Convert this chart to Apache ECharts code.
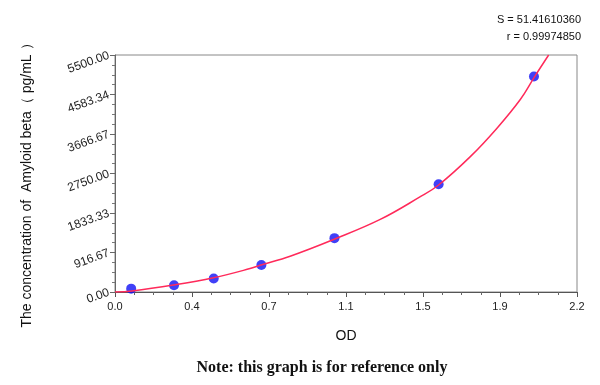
<!DOCTYPE html>
<html>
<head>
<meta charset="utf-8">
<script src="https://cdn.jsdelivr.net/npm/echarts@6/dist/echarts.min.js"></script>
<style>
html,body{margin:0;padding:0;background:#fff;}
#chart{width:600px;height:385px;}
</style>
</head>
<body>
<div id="chart"></div>
<script>
// Standard points (OD, concentration pg/mL)
const pointOD   = [0.077, 0.281, 0.470, 0.697, 1.045, 1.541, 1.995];
const pointConc = [78, 156, 312, 625, 1250, 2500, 5000];
// Fitted curve
const curveOD   = [0, 0.08, 0.278, 0.469, 0.643, 0.691, 0.834, 1.041, 1.263, 1.45, 1.541, 1.692, 1.819, 1.930, 1.994, 2.065];
const curveConc = [0, 23, 160, 330, 544, 621, 831, 1219, 1684, 2200, 2483, 3141, 3802, 4467, 4965, 5500];
// Tick labels
const xTickLabels = ['0.0', '0.4', '0.7', '1.1', '1.5', '1.9', '2.2'];
const yTickLabels = ['0.00', '916.67', '1833.33', '2750.00', '3666.67', '4583.34', '5500.00'];
const xMax = 2.2, yMax = 5500;

const chart = echarts.init(document.getElementById('chart'));
const xStep = xMax / 6, yStep = yMax / 6;
chart.setOption({
  animation: false,
  backgroundColor: '#fff',
  grid: {left: 115, right: 23, top: 55, bottom: 93, show: true, borderColor: '#888', borderWidth: 1, backgroundColor: 'transparent'},
  xAxis: {
    type: 'value', min: 0, max: xMax, interval: xStep,
    name: 'OD', nameLocation: 'middle', nameGap: 37,
    nameTextStyle: {fontFamily: 'Liberation Sans', fontSize: 14, color: '#111'},
    axisLine: {show: true, lineStyle: {color: '#555', width: 1}},
    axisTick: {show: true, length: 5, lineStyle: {color: '#555'}},
    minorTick: {show: true, splitNumber: 4, length: 3, lineStyle: {color: '#666'}},
    splitLine: {show: false},
    axisLabel: {
      fontFamily: 'Liberation Sans', fontSize: 11, color: '#222', margin: 9,
      formatter: v => xTickLabels[Math.round(v / xStep)] || ''
    }
  },
  yAxis: {
    type: 'value', min: 0, max: yMax, interval: yStep,
    axisLine: {show: true, lineStyle: {color: '#666', width: 1}},
    axisTick: {show: true, length: 5, lineStyle: {color: '#666'}},
    minorTick: {show: true, splitNumber: 4, length: 3, lineStyle: {color: '#777'}},
    splitLine: {show: false},
    axisLabel: {
      fontFamily: 'Liberation Sans', fontSize: 12, color: '#222', margin: 6, rotate: 20,
      padding: [8, 0, 0, 0],
      formatter: v => yTickLabels[Math.round(v / yStep)] || ''
    }
  },
  graphic: [
    {type: 'text', x: 27, y: 182, rotation: Math.PI / 2,
     style: {text: 'The concentration of  Amyloid beta（ pg/mL ）', fontFamily: 'Liberation Sans', fontSize: 14,
             fill: '#111', align: 'center', verticalAlign: 'middle'}},
    {type: 'text', x: 581, y: 20,
     style: {text: 'S = 51.41610360', fontFamily: 'Liberation Sans', fontSize: 11, fill: '#111', align: 'right', verticalAlign: 'middle'}},
    {type: 'text', x: 581, y: 37,
     style: {text: 'r = 0.99974850', fontFamily: 'Liberation Sans', fontSize: 11, fill: '#111', align: 'right', verticalAlign: 'middle'}},
    {type: 'text', x: 322, y: 368,
     style: {text: 'Note: this graph is for reference only', fontFamily: 'Liberation Serif', fontWeight: 'bold', fontSize: 16,
             fill: '#111', align: 'center', verticalAlign: 'middle'}}
  ],
  series: [
    {
      type: 'scatter', z: 2,
      data: pointOD.map((x, i) => [x, pointConc[i]]),
      symbol: 'circle', symbolSize: 10,
      itemStyle: {color: '#1010f5'}
    },
    {
      type: 'line', z: 3, smooth: 0.4, showSymbol: false, clip: true,
      data: curveOD.map((x, i) => [x, curveConc[i]]),
      lineStyle: {color: '#ff2a5a', width: 1.5}
    }
  ]
});
</script>
</body>
</html>
